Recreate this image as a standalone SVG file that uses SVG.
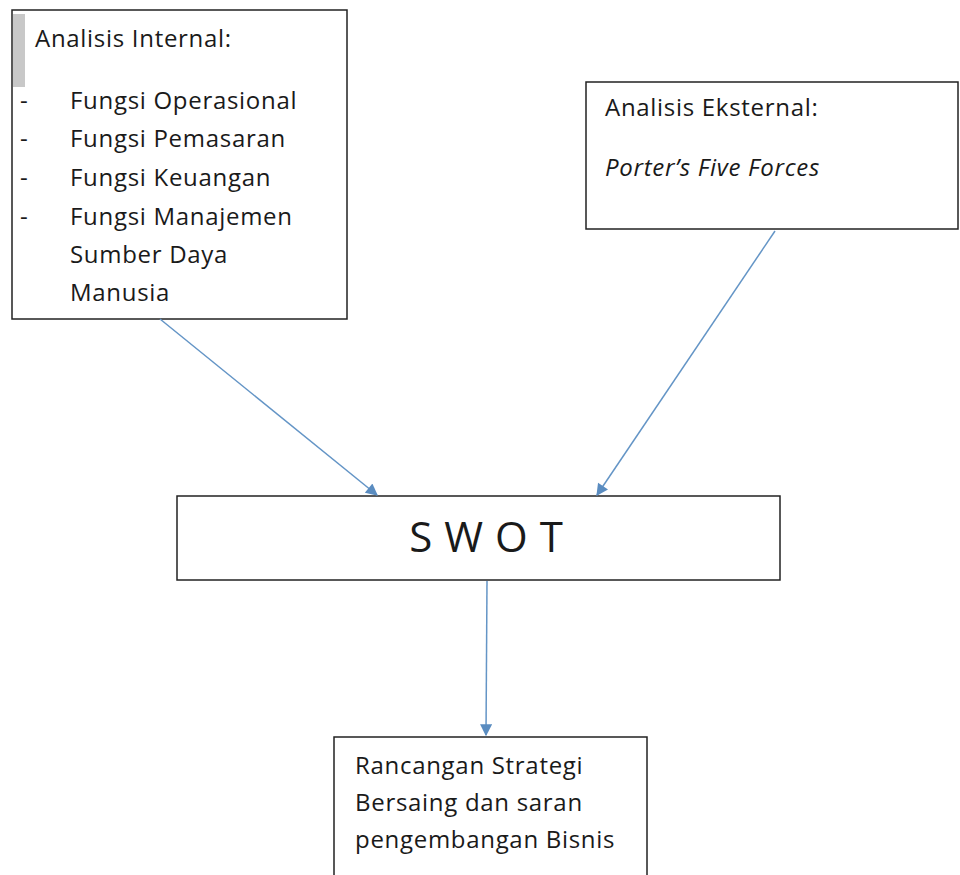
<svg xmlns="http://www.w3.org/2000/svg" width="960" height="875" viewBox="0 0 960 875">
<style>
.box{fill:#fff;stroke:#222;stroke-width:1.5}
.t{font-family:"Open Sans","Noto Sans",sans-serif;font-size:24px;letter-spacing:0.7px;fill:#1a1a1a}
.i{font-style:italic}
.c{stroke:#6495c6;stroke-width:1.5;fill:none}
</style>
<defs>
<marker id="ah" viewBox="0 0 10 10" refX="9" refY="5" markerWidth="13" markerHeight="12" markerUnits="userSpaceOnUse" orient="auto">
<path d="M0,0 L10,5 L0,10 z" fill="#5a8cc0"/>
</marker>
</defs>
<rect width="960" height="875" fill="#fff"/>
<g id="internal">
<rect class="box" x="12" y="10" width="335" height="309"/>
<rect x="13" y="14" width="12" height="73" fill="#c8c8c8"/>
<text class="t" x="35" y="47">Analisis Internal:</text>
<text class="t" x="20" y="109">-</text><text class="t" x="70" y="109">Fungsi Operasional</text>
<text class="t" x="20" y="147">-</text><text class="t" x="70" y="147">Fungsi Pemasaran</text>
<text class="t" x="20" y="186">-</text><text class="t" x="70" y="186">Fungsi Keuangan</text>
<text class="t" x="20" y="225">-</text><text class="t" x="70" y="225">Fungsi Manajemen</text>
<text class="t" x="70" y="263">Sumber Daya</text>
<text class="t" x="70" y="301">Manusia</text>
</g>
<g id="eksternal">
<rect class="box" x="586" y="82" width="372" height="147"/>
<text class="t" x="605" y="116">Analisis Eksternal:</text>
<text class="t i" x="605" y="176">Porter’s Five Forces</text>
</g>
<g id="swot">
<rect class="box" x="177" y="496" width="603" height="84"/>
<text x="492" y="552" text-anchor="middle" font-family="Open Sans, Noto Sans, sans-serif" font-size="42" letter-spacing="12" fill="#1a1a1a">SWOT</text>
</g>
<g id="rancangan">
<rect class="box" x="334" y="737" width="313" height="150"/>
<text class="t" x="355" y="774">Rancangan Strategi</text>
<text class="t" x="355" y="811">Bersaing dan saran</text>
<text class="t" x="355" y="848">pengembangan Bisnis</text>
</g>
<g id="connectors">
<line class="c" x1="160" y1="319" x2="377" y2="495" marker-end="url(#ah)"/>
<line class="c" x1="775" y1="231" x2="597" y2="495" marker-end="url(#ah)"/>
<line class="c" x1="487" y1="581" x2="486" y2="735" marker-end="url(#ah)"/>
</g>
</svg>
